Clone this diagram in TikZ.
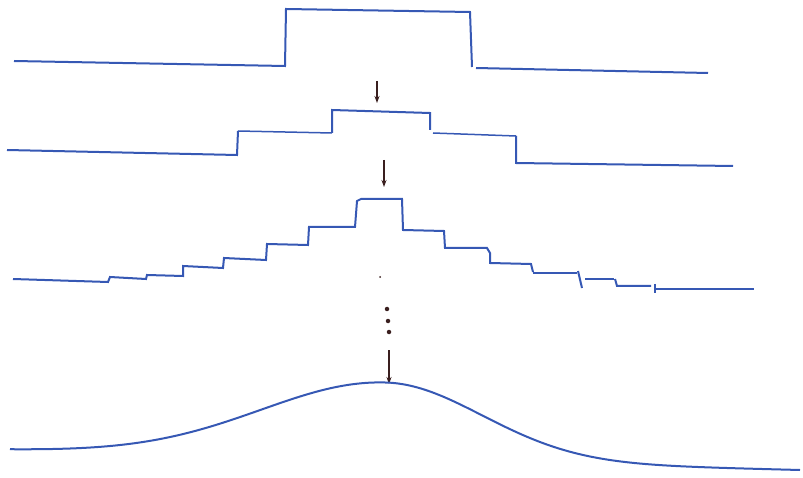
\documentclass[tikz,border=0pt]{standalone}
\usetikzlibrary{arrows.meta}
\definecolor{pen}{HTML}{3658B4}
\definecolor{ink}{HTML}{3A1F1F}
\tikzset{
  wave/.style={draw=pen, line width=2pt, line join=miter},
  thinwave/.style={draw=pen, line width=1.5pt},
  downarrow/.style={draw=ink, line width=1.4pt, -{Stealth[length=7pt,width=5pt]}},
  inkdot/.style={circle, fill=ink, inner sep=0pt, minimum size=#1},
}
\begin{document}
\begin{tikzpicture}[x=1pt,y=-1pt]
\useasboundingbox (0,0) rectangle (803,478);
% --- rectangular pulse
\draw[wave] (14,61) -- (285,66) -- (286,9) -- (470,12) -- (472,67);
\draw[wave] (476,68) -- (708,73);
% --- arrow 1
\coordinate (a1s) at (377,81);
\coordinate (a1e) at (377,103);
\draw[downarrow] (a1s) -- (a1e);
% --- two-step staircase
\draw[wave] (7,150) -- (237,155) -- (238,131);
\draw[thinwave] (238,131) -- (332,133);
\draw[wave] (332,133) -- (332,110) -- (430,113) -- (430,130);
\draw[thinwave] (433,133) -- (516,136);
\draw[wave] (516,136) -- (516,163) -- (733,166);
% --- arrow 2
\coordinate (a2s) at (384,160);
\coordinate (a2e) at (384,187);
\draw[downarrow] (a2s) -- (a2e);
% --- many-step staircase
\draw[wave] (13,279) -- (108,282) -- (110,277) -- (146,279) -- (147,275)
  -- (183,276) -- (183,266) -- (223,268) -- (224,258) -- (266,260)
  -- (267,244) -- (308,245) -- (309,227) -- (355,227) -- (357,201)
  -- (361,199) -- (402,199) -- (403,230) -- (444,231) -- (445,248)
  -- (487,248) -- (490,253) -- (490,263) -- (531,264) -- (533,272);
\draw[thinwave] (533,273) -- (577,273);
\draw[wave] (578,271) -- (582,288);
\draw[thinwave] (585,279) -- (614,279);
\draw[wave] (615,279) -- (617,286) -- (651,286);
\draw[wave] (655,284) -- (655,293);
\draw[wave] (655,289) -- (754,289);
% --- dots
\node[inkdot=2pt] (d0) at (380,277) {};
\node[inkdot=4.5pt] (d1) at (387,309) {};
\node[inkdot=4.5pt] (d2) at (388,321) {};
\node[inkdot=4.5pt] (d3) at (389,332) {};
% --- arrow 3
\coordinate (a3s) at (389,350);
\coordinate (a3e) at (389,384);
\draw[downarrow] (a3s) -- (a3e);
% --- gaussian (left flank wider than right flank)
\draw[wave] plot[domain=10:385, samples=80, smooth]
  (\x, {450 + 20*(\x-10)/790 - 77*exp(-((\x-385)/175)^2)})
  -- plot[domain=385:800, samples=80, smooth]
  (\x, {450 + 20*(\x-10)/790 - 77*exp(-((\x-385)/137)^2)});
\end{tikzpicture}
\end{document}
